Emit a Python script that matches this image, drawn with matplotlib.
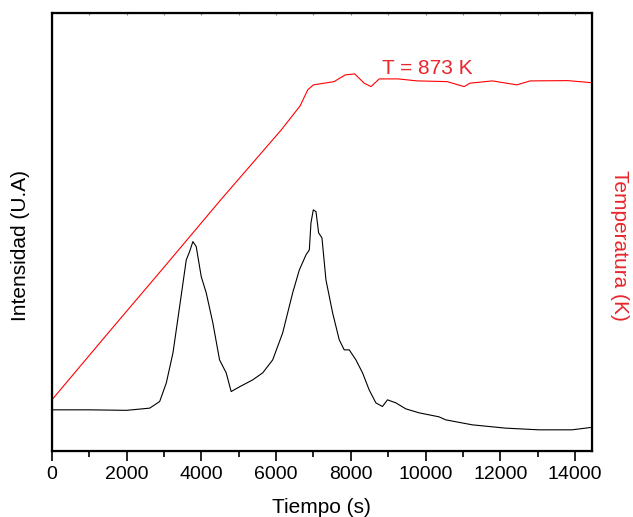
import matplotlib.pyplot as plt


# Intensity signal (arbitrary units)
tiempo_int = [
    0, 1000, 2000, 2617, 2884, 3062, 3240, 3418, 3596, 3685, 3773, 3862,
    3996, 4130, 4307, 4486, 4664, 4797, 5020, 5375, 5642, 5909, 6176, 6443,
    6622, 6800, 6889, 6933, 6995, 7067, 7138, 7227, 7334, 7512, 7690, 7823,
    7957, 8135, 8313, 8490, 8669, 8846, 8980, 9203, 9470, 9826, 10360, 10538,
    11249, 12140, 13030, 13920, 14410
]
intensidad = [
    41, 41, 40.5, 42.7, 49.3, 68, 98, 144.3, 191, 199.3, 209.3, 204.3,
    174.3, 158, 128, 91, 78, 59.3, 64, 71, 78, 91, 118, 158,
    181, 196, 201, 228, 241, 239.3, 218, 213, 171, 138, 111, 101,
    101, 91, 78, 61, 48, 44.3, 51, 48, 42, 38, 34, 31,
    26, 22.7, 21, 21, 23.3
]

# Temperature ramp (K)
tiempo_temp = [
    0, 1500, 3000, 4500, 6138, 6643, 6846, 6996, 7553, 7703, 7853, 8104,
    8357, 8539, 8760, 9265, 9769, 10576, 11032, 11185, 11789, 12443, 12797,
    13806, 14418
]
temperatura = [
    300, 420, 539, 659, 786.5, 829.8, 858.6, 867.6, 873.5, 879.7, 885.6, 887.4,
    870.7, 864.5, 878.4, 878.4, 874.8, 873.5, 864.5, 870.7, 874.8, 867.6, 874.8,
    875.3, 871.7
]

x_ticks = [0, 2000, 4000, 6000, 8000, 10000, 12000, 14000]


def plot_tpd():

    plt.rcParams["font.family"] = ["Liberation Sans", "DejaVu Sans"]

    fig = plt.figure(
        figsize=(6.33, 5.17),
        dpi=100
    )

    ax = fig.add_axes([0.082, 0.128, 0.853, 0.847])

    ax.plot(
        tiempo_int,
        intensidad,
        color="black",
        linewidth=0.8
    )

    ax.set_xlim(0, 14450)
    ax.set_ylim(0, 438)

    ax.set_xticks(x_ticks)
    ax.set_xticks(range(1000, 14450, 2000), minor=True)
    ax.tick_params(
        axis="x",
        which="major",
        direction="out",
        length=7,
        width=1.2,
        labelsize=14,
        pad=4,
        bottom=True,
        top=False
    )
    ax.tick_params(
        axis="x",
        which="minor",
        direction="out",
        length=4,
        width=1.2,
        bottom=True,
        top=False
    )
    ax.set_yticks([])

    # faint ticks along the top edge
    top = ax.secondary_xaxis("top")
    top.set_xticks(range(0, 14450, 1000))
    top.tick_params(direction="in", length=1.5, width=0.8, color="#888888", labeltop=False)
    top.spines["top"].set_visible(False)

    for side in ax.spines.values():
        side.set_linewidth(1.6)

    ax.set_xlabel("Tiempo (s)", fontsize=15, labelpad=11)
    ax.set_ylabel("Intensidad (U.A)", fontsize=15, va="center")
    ax.yaxis.set_label_coords(-0.059, 0.468)

    # Temperature on the secondary axis
    ax2 = ax.twinx()

    ax2.plot(
        tiempo_temp,
        temperatura,
        color="red",
        linewidth=0.8
    )

    ax2.set_ylim(208.1, 997.3)
    ax2.set_yticks([])

    ax2.set_ylabel(
        "Temperatura (K)",
        color="#e8262c",
        fontsize=15,
        rotation=270,
        va="center"
    )
    ax2.yaxis.set_label_coords(1.052, 0.468)

    ax2.text(
        10040,
        898,
        "T = 873 K",
        color="#e8262c",
        fontsize=15,
        ha="center",
        va="center"
    )

    plt.savefig("out.png", dpi=100)
    plt.close()


plot_tpd()
